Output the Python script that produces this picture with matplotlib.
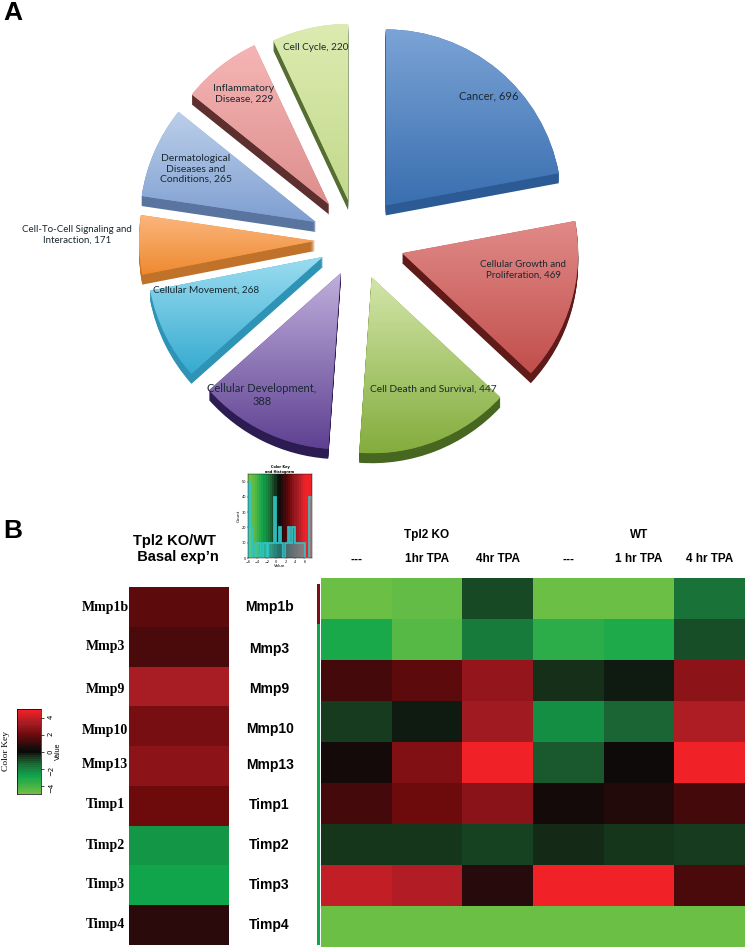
import numpy as np
import matplotlib
matplotlib.use("Agg")
import matplotlib.pyplot as plt
from matplotlib.colors import LinearSegmentedColormap, Normalize

W, H = 745, 949

# pie values
pie_values = [696, 469, 447, 388, 268, 171, 265, 229, 220]
pie_explode = [45, 47, 40, 37, 38, 42, 45, 45, 41]
pie_light = ["#7ba3d6", "#e08a88", "#d2e5a8", "#bfaedb", "#9adcf0", "#fbb57c", "#bccfea", "#f5b5b4", "#dcebb0"]
pie_dark = ["#3a6fb0", "#c24f4c", "#84ad3e", "#5f4192", "#36abd0", "#ee8a30", "#7f9fd1", "#dc8f8d", "#c3d98c"]
pie_side = ["#2b5a94", "#5f1a1a", "#47661f", "#2c1c52", "#2f93b5", "#c0722a", "#5a74a0", "#5e2f2f", "#566e33"]

pie_labels = ["Cancer, 696", "Cellular Growth and\nProliferation, 469", "Cell Death and Survival, 447",
              "Cellular Development,\n388", "Cellular Movement, 268", "Cell-To-Cell Signaling and\nInteraction, 171",
              "Dermatological\nDiseases and\nConditions, 265", "Inflammatory\nDisease, 229", "Cell Cycle, 220"]
pie_label_xy = [(489, 96), (523, 270), (433, 389), (262, 395), (206, 290), (77, 235),
                (196, 169), (244, 94), (316, 47)]
pie_label_size = [8, 7, 7.3, 8, 7.2, 7, 7.5, 7.5, 7.2]

# heatmaps
genes = ["Mmp1b", "Mmp3", "Mmp9", "Mmp10", "Mmp13", "Timp1", "Timp2", "Timp3", "Timp4"]
left_label_y = [606, 645, 688, 729, 763, 803, 844, 883, 923]
mid_label_y = [606, 647, 687, 728, 764, 803, 843, 883, 923]
basal = [1.7, 1.3, 3.5, 2.3, 2.8, 2.0, -2.6, -3.0, 0.7]
conditions = ["---", "1hr TPA", "4hr TPA", "---", "1 hr TPA", "4 hr TPA"]
tpa = [[-5.0, -4.8, -0.9, -5.0, -5.0, -1.7],
       [-3.2, -4.5, -1.9, -3.6, -3.3, -1.0],
       [1.2, 1.7, 3.0, -0.5, -0.2, 2.8],
       [-0.7, -0.2, 3.3, -2.4, -1.4, 3.6],
       [0.2, 2.5, 5.0, -1.2, 0.1, 5.0],
       [1.2, 2.0, 2.7, 0.2, 0.5, 1.2],
       [-0.6, -0.6, -0.8, -0.4, -0.6, -0.7],
       [4.0, 3.7, 0.6, 5.0, 5.0, 1.3],
       [-5.0, -5.0, -5.0, -5.0, -5.0, -5.0]]
side_strip = [2.4, -3, -3, -3, -3, -3, -3, -3, -3]

# histogram of the small colour key
hist_edges = [-6, -5.6, -5.1, -4.6, -4.3, -3.3, -2.8, -1.9, -1.7, -0.5, -0.1, 0.2, 0.6, 1.0, 1.5, 1.9, 2.6, 3.0, 3.4, 4.0, 5.0, 6.2, 6.9, 7.6]
hist_counts = [5, 2, 0, 1, 1, 0, 1, 0, 1, 4, 1, 1, 2, 1, 0, 1, 2, 1, 2, 1, 1, 0, 4]

cmap = LinearSegmentedColormap.from_list("gkr", [
    (0.0, "#6cbf45"), (0.2, "#10a54b"), (0.35, "#1a6b36"), (0.45, "#163018"),
    (0.5, "#0a0a0a"), (0.7, "#6b0a0c"), (0.85, "#a81c24"), (1.0, "#f02228")])
norm = Normalize(-5, 5)


def ax_px(x0, y0, x1, y1):
    return fig.add_axes([x0 / W, 1 - y1 / H, (x1 - x0) / W, (y1 - y0) / H])


fig = plt.figure(figsize=(W / 100, H / 100), dpi=100)

# panel A
ax = fig.add_axes([0, 0, 1, 1])
ax.set_xlim(0, W)
ax.set_ylim(0, H)
ax.axis("off")
cx, cy, r = 357, H - 240, 176
depth = 10
for d in range(depth, 0, -1):
    ax.pie(pie_values, explode=pie_explode, colors=pie_side, startangle=90, counterclock=False,
           radius=r, center=(cx, cy - d), frame=True)
wedges, _ = ax.pie(pie_values, explode=pie_explode, colors=pie_dark, startangle=90, counterclock=False,
                   radius=r, center=(cx, cy), frame=True)
ax.set_xlim(0, W)
ax.set_ylim(0, H)
ax.set_aspect("auto")
ax.axis("off")
fig.canvas.draw()
for w, c1, c2 in zip(wedges, pie_light, pie_dark):
    b = w.get_path().get_extents(w.get_transform() + ax.transData.inverted())
    cm = LinearSegmentedColormap.from_list("g", [c1, c2])
    im = ax.imshow(np.linspace(0, 1, 64).reshape(-1, 1), cmap=cm, origin="upper", aspect="auto",
                   extent=(b.x0, b.x1, b.y0, b.y1), zorder=3)
    im.set_clip_path(w)
ax.set_xlim(0, W)
ax.set_ylim(0, H)
for s, (x, y), fs in zip(pie_labels, pie_label_xy, pie_label_size):
    ax.text(x, H - y, s, ha="center", va="center", fontsize=fs, family="Lato", color="#1a2830",
            linespacing=1.15, zorder=5)
ax.text(3, H - 13, "A", fontsize=19, fontweight="bold", family="Liberation Sans", ha="left", va="center")
ax.text(3, H - 531, "B", fontsize=19, fontweight="bold", family="Liberation Sans", ha="left", va="center")

# basal column
ax1 = ax_px(129, 587, 229, 945)
ax1.pcolormesh(np.array(basal).reshape(-1, 1), cmap=cmap, norm=norm)
ax1.invert_yaxis()
ax1.set_xticks([])
ax1.set_yticks((np.array(left_label_y) - 587) / (945 - 587) * 9, genes, family="Liberation Serif",
               fontweight="bold", fontsize=10, ha="center")
ax1.tick_params(axis="y", length=0, pad=17)
for s in ax1.spines.values():
    s.set_visible(False)

# side strip
ax_s = ax_px(317, 584, 320, 945)
ax_s.pcolormesh(np.array(side_strip).reshape(-1, 1), cmap=cmap, norm=norm)
ax_s.invert_yaxis()
ax_s.axis("off")

# TPA matrix
ax2 = ax_px(321, 578, 745, 947)
ax2.pcolormesh(np.array(tpa), cmap=cmap, norm=norm)
ax2.invert_yaxis()
ax2.xaxis.tick_top()
ax2.set_xticks(np.arange(6) + 0.5, conditions, family="Liberation Sans", fontweight="bold", fontsize=8.5)
ax2.tick_params(axis="x", length=0, pad=9)
ax2.set_yticks((np.array(mid_label_y) - 578) / 41, genes, family="Liberation Sans", fontweight="bold",
               fontsize=10, ha="center")
ax2.tick_params(axis="y", length=0, pad=37)
for s in ax2.spines.values():
    s.set_visible(False)
ax.text(427, H - 535, "Tpl2 KO", family="Liberation Sans", fontweight="bold", fontsize=8.5, ha="center", va="center", zorder=6)
ax.text(639, H - 535, "WT", family="Liberation Sans", fontweight="bold", fontsize=8.5, ha="center", va="center", zorder=6)
ax.text(174, H - 549, "Tpl2 KO/WT\n  Basal exp\u2019n", family="Liberation Sans", fontweight="bold", fontsize=10.5,
        ha="center", va="center", zorder=6)

# colour key bar
ax3 = ax_px(17, 709, 41, 794)
vals = np.linspace(-5, 5, 41)
ax3.pcolormesh([0, 1], np.linspace(-5, 5, 42), vals.reshape(-1, 1), cmap=cmap, norm=norm)
ax3.set_xticks([])
ax3.yaxis.tick_right()
ax3.set_yticks([-4, -2, 0, 2, 4])
ax3.tick_params(axis="y", labelsize=5, length=2, pad=3, width=0.5, labelrotation=90)
ax3.set_ylabel("Value", fontsize=5, labelpad=1, family="Liberation Sans")
ax3.yaxis.set_label_position("right")
for s in ax3.spines.values():
    s.set_linewidth(0.5)
ax.text(6, H - 751, "Color Key", family="Liberation Serif", fontsize=6.8, rotation=90, ha="center", va="center", zorder=6)

# small colour key with histogram
ax4 = ax_px(248, 474, 312, 558)
ax4.pcolormesh(np.linspace(-6, 7.6, 30), [0, 55], np.linspace(-5.5, 6, 29).reshape(1, -1), cmap=cmap, norm=norm)
ax4.stairs(hist_counts, np.array(hist_edges), baseline=0, fill=True, color="#40d0d0", alpha=0.5)
ax4.stairs(np.array(hist_counts), np.array(hist_edges), baseline=0, color="#30c4c8", lw=1.2)
ax4.set_xlim(-6, 7.6)
ax4.set_ylim(0, 5.5)
ax4.set_xticks([-6, -4, -2, 0, 2, 4, 6])
ax4.set_yticks(range(6), ["0", "10", "20", "30", "40", "50"])
ax4.tick_params(labelsize=2.5, length=1, width=0.3, pad=0.5)
ax4.set_xlabel("Value", fontsize=3, labelpad=0)
ax4.set_ylabel("Count", fontsize=3, labelpad=0.5)
ax4.set_title("Color Key\nand Histogram", fontsize=2.5, pad=0.5, fontweight="bold")
for s in ax4.spines.values():
    s.set_linewidth(0.3)

fig.savefig("out.png", dpi=100)
